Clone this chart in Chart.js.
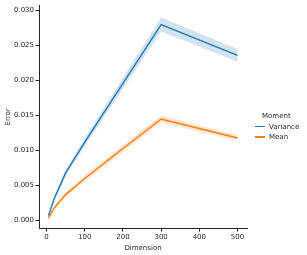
<!DOCTYPE html>
<html>
<head>
<meta charset="utf-8">
<script src="https://cdn.jsdelivr.net/npm/chart.js@4"></script>
<style>
  html, body { margin: 0; padding: 0; background: #fff; }
  #wrap { position: relative; width: 307px; height: 255px; }
  #legend { position: absolute; left: 250px; top: 112px; font: 7px "DejaVu Sans"; color: #262626; }
  #legend .titulo { position: absolute; left: 12px; top: 0; white-space: nowrap; }
  #legend .fila { position: absolute; left: 5px; white-space: nowrap; }
  #legend .fila span { display: inline-block; width: 10px; height: 1.5px; vertical-align: middle; margin-right: 4px; }
</style>
</head>
<body>
<div id="wrap">
  <canvas id="grafico" width="307" height="255"></canvas>
  <div id="legend"></div>
</div>
<script>
/* ----- Datos ----- */
const dimension = [5, 20, 50, 100, 200, 300, 500];

const varianza = [0.0007, 0.0031, 0.0068, 0.0112, 0.0196, 0.0280, 0.0236];
const varianzaCI = [0.0002, 0.0003, 0.0004, 0.0006, 0.0008, 0.0010, 0.0009];

const media = [0.0003, 0.0018, 0.0037, 0.0060, 0.0103, 0.0145, 0.0118];
const mediaCI = [0.0001, 0.0002, 0.0003, 0.0004, 0.0005, 0.0005, 0.0004];

const xTicks = [0, 100, 200, 300, 400, 500];
const yTicks = [0, 0.005, 0.010, 0.015, 0.020, 0.025, 0.030];

const azul = "#1f77b4";
const naranja = "#ff7f0e";
const texto = "#262626";

/* ----- Series ----- */
function puntos(vals, delta, signo) {
    return dimension.map((d, i) => ({ x: d, y: vals[i] + signo * delta[i] }));
}

function banda(vals, delta, color) {
    return [
        { data: puntos(vals, delta, 1), borderWidth: 0, pointRadius: 0, fill: "+1", backgroundColor: color },
        { data: puntos(vals, delta, -1), borderWidth: 0, pointRadius: 0, fill: false }
    ];
}

function linea(vals, color) {
    return { data: puntos(vals, vals.map(() => 0), 0), borderColor: color, borderWidth: 1.4, pointRadius: 0, fill: false };
}

const datasets = [
    ...banda(varianza, varianzaCI, "rgba(31,119,180,0.2)"),
    ...banda(media, mediaCI, "rgba(255,127,14,0.2)"),
    linea(varianza, azul),
    linea(media, naranja)
];

/* ----- Gráfico ----- */
new Chart(document.getElementById("grafico"), {
    type: "line",
    data: { datasets },
    options: {
        responsive: false,
        animation: false,
        layout: { padding: { top: 5, right: 60, left: 0, bottom: 0 } },
        plugins: { legend: { display: false }, tooltip: { enabled: false } },
        scales: {
            x: {
                type: "linear",
                min: -19.75,
                max: 524.75,
                afterBuildTicks: s => { s.ticks = xTicks.map(v => ({ value: v })); },
                afterFit: s => { s.height = 27; },
                grid: { drawOnChartArea: false, tickLength: 3.5, color: texto },
                border: { color: texto, width: 1 },
                ticks: { color: texto, font: { family: "DejaVu Sans", size: 7 }, padding: 1, maxRotation: 0 },
                title: { display: true, text: "Dimension", color: texto, font: { family: "DejaVu Sans", size: 7 }, padding: { top: 0, bottom: 3 } }
            },
            y: {
                type: "linear",
                min: -0.00107,
                max: 0.0307,
                afterBuildTicks: s => { s.ticks = yTicks.map(v => ({ value: v })); },
                afterFit: s => { s.width = 39; },
                grid: { drawOnChartArea: false, tickLength: 3.5, color: texto },
                border: { color: texto, width: 1 },
                ticks: { color: texto, font: { family: "DejaVu Sans", size: 7 }, padding: 1.5, callback: v => v.toFixed(3) },
                title: { display: true, text: "Error", color: texto, font: { family: "DejaVu Sans", size: 7 }, padding: { top: 4, bottom: 0 } }
            }
        }
    }
});

/* ----- Leyenda ----- */
const leyenda = document.getElementById("legend");
leyenda.innerHTML = `<div class="titulo">Moment</div>`;
[["Variance", azul], ["Mean", naranja]].forEach(([nombre, color], i) => {
    leyenda.innerHTML += `<div class="fila" style="top:${10.5 + i * 10.5}px"><span style="background:${color}"></span>${nombre}</div>`;
});
</script>
</body>
</html>
